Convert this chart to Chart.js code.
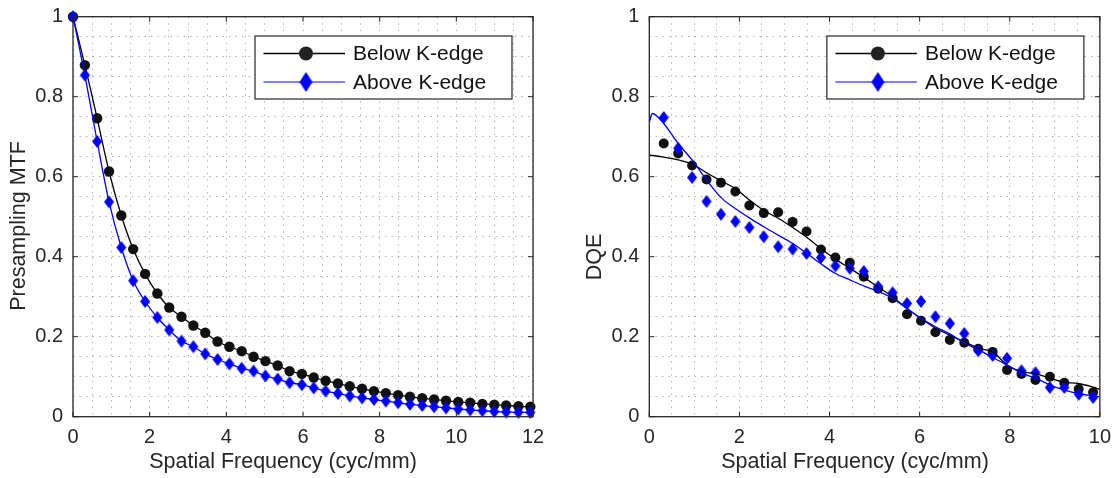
<!DOCTYPE html>
<html><head><meta charset="utf-8">
<script src="https://cdn.jsdelivr.net/npm/chart.js@4.4.1/dist/chart.umd.min.js"></script>
<style>
html,body{margin:0;padding:0;background:#fff;width:1120px;height:478px;overflow:hidden}
canvas{position:absolute;top:0}
#c1{left:0}
#c2{left:560px}
</style></head><body>
<canvas id="c1" width="560" height="478"></canvas>
<canvas id="c2" width="560" height="478"></canvas>
<script>
// ---------- data ----------
const seriesNames = ['Below K-edge', 'Above K-edge'];
const xTitle = 'Spatial Frequency (cyc/mm)';
const mtfYTitle = 'Presampling MTF';
const dqeYTitle = 'DQE';
const mtfXTicks = [0, 2, 4, 6, 8, 10, 12];
const dqeXTicks = [0, 2, 4, 6, 8, 10];
const yTicks = [0, 0.2, 0.4, 0.6, 0.8, 1];

const mtfFreq = [0, 0.31, 0.63, 0.94, 1.26, 1.57, 1.88, 2.2, 2.51, 2.83, 3.14, 3.45, 3.77, 4.08, 4.4, 4.71, 5.02, 5.34, 5.65, 5.97,
  6.28, 6.59, 6.91, 7.22, 7.54, 7.85, 8.16, 8.48, 8.79, 9.11, 9.42, 9.73, 10.05, 10.36, 10.68, 10.99, 11.3, 11.62, 11.93];
const mtfBelow = [1.0, 0.879, 0.746, 0.613, 0.503, 0.419, 0.357, 0.308, 0.273, 0.25, 0.228, 0.21, 0.188, 0.175, 0.164, 0.15, 0.139, 0.128, 0.114, 0.107,
  0.098, 0.09, 0.083, 0.076, 0.07, 0.064, 0.059, 0.054, 0.05, 0.046, 0.043, 0.04, 0.037, 0.035, 0.032, 0.03, 0.028, 0.026, 0.025];
const mtfAbove = [1.0, 0.854, 0.688, 0.537, 0.423, 0.34, 0.288, 0.248, 0.217, 0.189, 0.175, 0.157, 0.143, 0.132, 0.121, 0.114, 0.102, 0.094, 0.085, 0.08,
  0.072, 0.064, 0.058, 0.052, 0.047, 0.043, 0.039, 0.035, 0.031, 0.028, 0.025, 0.022, 0.019, 0.017, 0.015, 0.013, 0.012, 0.011, 0.011];

const dqeFreq = [0.32, 0.64, 0.95, 1.27, 1.59, 1.91, 2.22, 2.54, 2.86, 3.18, 3.49, 3.81, 4.13, 4.45, 4.76, 5.08, 5.40, 5.72, 6.03, 6.35,
  6.67, 6.99, 7.30, 7.62, 7.94, 8.26, 8.57, 8.89, 9.21, 9.53, 9.85];
const dqeBelow = [0.683, 0.658, 0.628, 0.593, 0.585, 0.563, 0.528, 0.509, 0.511, 0.487, 0.463, 0.418, 0.398, 0.385, 0.35, 0.32, 0.296, 0.256, 0.24, 0.211,
  0.192, 0.185, 0.17, 0.162, 0.117, 0.107, 0.092, 0.1, 0.085, 0.069, 0.061];
const dqeAbove = [0.748, 0.671, 0.598, 0.538, 0.506, 0.488, 0.473, 0.45, 0.425, 0.419, 0.408, 0.398, 0.377, 0.371, 0.363, 0.325, 0.31, 0.283, 0.288, 0.25,
  0.233, 0.208, 0.165, 0.153, 0.146, 0.115, 0.11, 0.073, 0.073, 0.056, 0.048];

const dqeFitFreq = [0, 0.08, 0.32, 0.64, 0.95, 1.27, 1.6, 1.9, 2.22, 2.54, 2.86, 3.18, 3.5, 3.8, 4.13, 4.45, 4.78, 5.09, 5.4, 5.71,
  6.03, 6.35, 6.67, 6.98, 7.31, 7.62, 7.94, 8.25, 8.58, 8.9, 9.2, 9.52, 9.85, 10];
const dqeBelowFit = [0.654, 0.653, 0.649, 0.642, 0.632, 0.61, 0.589, 0.571, 0.542, 0.516, 0.496, 0.473, 0.448, 0.421, 0.394, 0.371, 0.347, 0.323, 0.3, 0.271,
  0.246, 0.221, 0.204, 0.188, 0.171, 0.162, 0.129, 0.113, 0.107, 0.096, 0.086, 0.083, 0.074, 0.068];
const dqeAboveFit = [0.737, 0.758, 0.733, 0.683, 0.642, 0.592, 0.547, 0.521, 0.497, 0.475, 0.454, 0.433, 0.408, 0.383, 0.358, 0.342, 0.326, 0.3125, 0.296, 0.271,
  0.246, 0.225, 0.207, 0.185, 0.167, 0.148, 0.129, 0.11, 0.096, 0.079, 0.067, 0.058, 0.052, 0.05];

// ---------- styling helpers ----------
const TXT = '#262626';
const FONT = '"Liberation Sans", Arial, Helvetica, sans-serif';
Chart.defaults.font.family = FONT;
Chart.defaults.color = TXT;

function diamond(w, h, color) {
  const c = document.createElement('canvas');
  c.width = w + 2; c.height = h + 2;
  const g = c.getContext('2d');
  g.fillStyle = color;
  g.beginPath();
  g.moveTo((w + 2) / 2, 1);
  g.lineTo(w + 1, (h + 2) / 2);
  g.lineTo((w + 2) / 2, h + 1);
  g.lineTo(1, (h + 2) / 2);
  g.closePath();
  g.fill();
  return c;
}
const plotDiamond = diamond(10, 13, '#0000ff');
const legendDiamond = diamond(13, 20, '#0000ff');

const pts = (xs, ys) => xs.map((x, i) => ({x: x, y: ys[i]}));
const isMajor = (v, list) => list.some(t => Math.abs(t - v) < 1e-6);
const fmt = v => String(Math.round(v * 100) / 100);

const framePlugin = {
  id: 'frame',
  afterDraw(chart, args, o) {
    const {ctx, chartArea: a, scales: {x, y}} = chart;
    ctx.save();
    ctx.strokeStyle = TXT;
    ctx.lineWidth = 1;
    const ln = (x1, y1, x2, y2) => { ctx.beginPath(); ctx.moveTo(x1, y1); ctx.lineTo(x2, y2); ctx.stroke(); };
    o.xMajor.forEach(v => {
      const px = x.getPixelForValue(v);
      ln(px, a.bottom, px, a.bottom - 5);
      ln(px, a.top, px, a.top + 5);
    });
    o.yMajor.forEach(v => {
      const py = y.getPixelForValue(v);
      ln(a.left, py, a.left + 5, py);
      ln(a.right, py, a.right - 5, py);
    });
    ctx.lineWidth = 1.3;
    ctx.strokeRect(a.left, a.top, a.right - a.left, a.bottom - a.top);

    // axis titles
    ctx.fillStyle = TXT;
    ctx.font = '21.5px ' + FONT;
    ctx.textBaseline = 'middle';
    ctx.textAlign = 'center';
    ctx.fillText(o.xTitle.text, o.xTitle.x, o.xTitle.y);
    ctx.save();
    ctx.translate(o.yTitle.x, o.yTitle.y);
    ctx.rotate(-Math.PI / 2);
    ctx.fillText(o.yTitle.text, 0, 0);
    ctx.restore();

    // legend
    const L = o.legend;
    const bw = 257, bh = 63;
    const bx = a.right - L.gapRight - bw, by = 36;
    ctx.fillStyle = '#fff';
    ctx.fillRect(bx, by, bw, bh);
    ctx.lineWidth = 1.2;
    ctx.strokeStyle = TXT;
    ctx.strokeRect(bx, by, bw, bh);
    L.items.forEach((it, k) => {
      const cy = by + 17.5 + k * 28.5;
      ctx.strokeStyle = it.color;
      ctx.lineWidth = it.lineWidth;
      ln(bx + 8.5, cy, bx + 90, cy);
      if (it.marker === 'circle') {
        ctx.fillStyle = '#222';
        ctx.beginPath(); ctx.arc(bx + 51, cy, 7, 0, Math.PI * 2); ctx.fill();
      } else {
        ctx.drawImage(legendDiamond, bx + 51 - legendDiamond.width / 2, cy - legendDiamond.height / 2);
      }
      ctx.fillStyle = '#111';
      ctx.font = '21px ' + FONT;
      ctx.textBaseline = 'middle';
      ctx.textAlign = 'left';
      ctx.fillText(it.text, bx + 98, cy + 1);
    });
    ctx.restore();
  }
};

function makeScales(xMax, xMajor, yWidth) {
  return {
    x: {
      type: 'linear', min: 0, max: xMax,
      afterFit(s) { s.height = 61.3; },
      ticks: {
        stepSize: 0.5, autoSkip: false, maxRotation: 0, padding: 9,
        font: {size: 20}, color: TXT,
        callback: v => isMajor(v, xMajor) ? fmt(v) : ''
      },
      grid: {color: 'rgba(0,0,0,0.3)', lineWidth: 1, drawTicks: false},
      border: {display: false, dash: [1.5, 5]},
      title: {display: false}
    },
    y: {
      type: 'linear', min: 0, max: 1,
      afterFit(s) { s.width = yWidth; s.paddingTop = 0; s.paddingBottom = 0; },
      ticks: {
        stepSize: 0.05, autoSkip: false, padding: 10,
        font: {size: 20}, color: TXT,
        callback: v => isMajor(v, yTicks) ? fmt(v) : ''
      },
      grid: {color: 'rgba(0,0,0,0.3)', lineWidth: 1, drawTicks: false},
      border: {display: false, dash: [1.5, 5]},
      title: {display: false}
    }
  };
}

const common = {
  responsive: false, animation: false, devicePixelRatio: 1,
  plugins: {legend: {display: false}, tooltip: {enabled: false}},
};

new Chart(document.getElementById('c1'), {
  type: 'line',
  data: {datasets: [
    {label: seriesNames[0], data: pts(mtfFreq, mtfBelow), borderColor: '#000', borderWidth: 1.3,
      pointStyle: 'circle', pointRadius: 5.2, pointBackgroundColor: '#111', pointBorderColor: '#111', pointBorderWidth: 0,
      tension: 0.3, clip: false, order: 2},
    {label: seriesNames[1], data: pts(mtfFreq, mtfAbove), borderColor: '#0000ff', borderWidth: 1.3,
      pointStyle: plotDiamond, pointRadius: 5, tension: 0.3, clip: false, order: 1}
  ]},
  options: Object.assign({}, common, {
    layout: {padding: {left: 0, right: 27, top: 16.7, bottom: 0}},
    scales: makeScales(12, mtfXTicks, 73),
    plugins: Object.assign({}, common.plugins, {
      frame: {xMajor: mtfXTicks, yMajor: yTicks,
        xTitle: {text: xTitle, x: 283, y: 462},
        yTitle: {text: mtfYTitle, x: 19.5, y: 226},
        legend: {gapRight: 21, items: [
        {text: seriesNames[0], color: '#000', lineWidth: 1.5, marker: 'circle'},
        {text: seriesNames[1], color: '#0000ff', lineWidth: 1, marker: 'diamond'}]}}
    })
  }),
  plugins: [framePlugin]
});

new Chart(document.getElementById('c2'), {
  type: 'line',
  data: {datasets: [
    {label: seriesNames[0] + ' fit', data: pts(dqeFitFreq, dqeBelowFit), borderColor: '#000', borderWidth: 1.3,
      pointRadius: 0, tension: 0.35, clip: false, order: 2},
    {label: seriesNames[1] + ' fit', data: pts(dqeFitFreq, dqeAboveFit), borderColor: '#0000ff', borderWidth: 1.3,
      pointRadius: 0, tension: 0.35, clip: false, order: 1},
    {label: seriesNames[0], data: pts(dqeFreq, dqeBelow), showLine: false,
      pointStyle: 'circle', pointRadius: 5, pointBackgroundColor: '#111', pointBorderColor: '#111', pointBorderWidth: 0,
      clip: false, order: 4},
    {label: seriesNames[1], data: pts(dqeFreq, dqeAbove), showLine: false,
      pointStyle: plotDiamond, pointRadius: 5, clip: false, order: 3}
  ]},
  options: Object.assign({}, common, {
    layout: {padding: {left: 0, right: 17, top: 16.7, bottom: 0}},
    scales: makeScales(10, dqeXTicks, 89.3),
    plugins: Object.assign({}, common.plugins, {
      frame: {xMajor: dqeXTicks, yMajor: yTicks,
        xTitle: {text: xTitle, x: 295, y: 462},
        yTitle: {text: dqeYTitle, x: 35, y: 257},
        legend: {gapRight: 16, items: [
        {text: seriesNames[0], color: '#000', lineWidth: 1.5, marker: 'circle'},
        {text: seriesNames[1], color: '#0000ff', lineWidth: 1, marker: 'diamond'}]}}
    })
  }),
  plugins: [framePlugin]
});
</script>
</body></html>
